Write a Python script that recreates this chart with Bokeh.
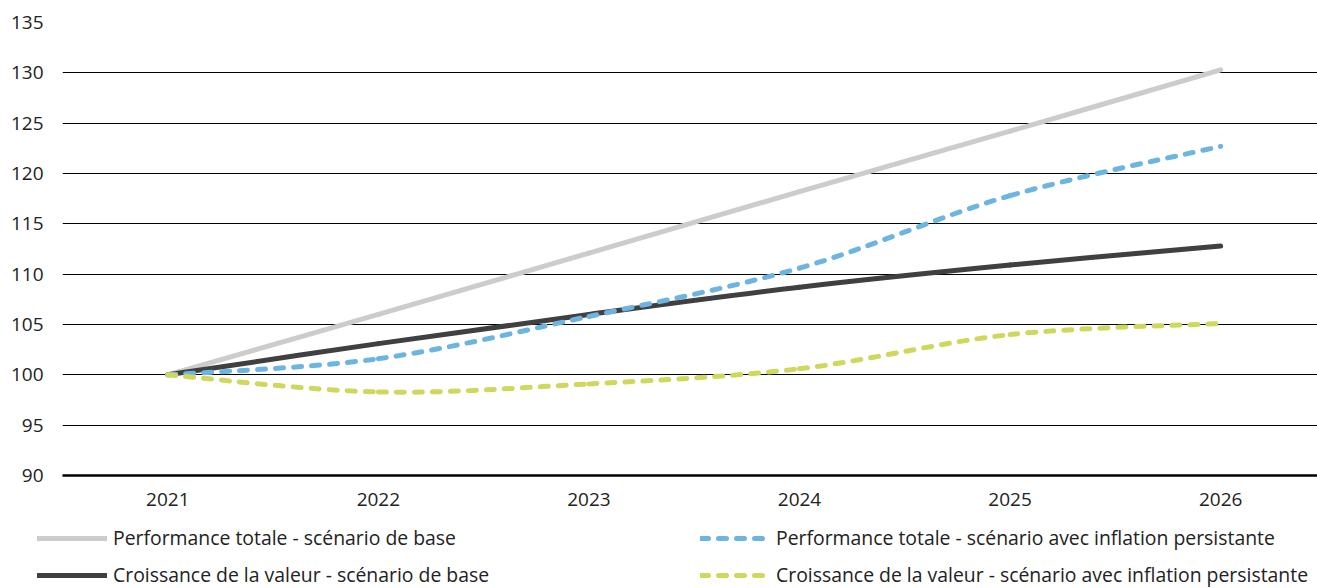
from bokeh.plotting import figure
from bokeh.models import Range1d, FixedTicker, Legend, LegendItem
from bokeh.layouts import column
from bokeh.embed import file_html
from bokeh.resources import INLINE

years = [2021, 2022, 2023, 2024, 2025, 2026]
perf_base = [100.0, 106.0, 112.1, 118.2, 124.2, 130.3]
croiss_base = [100.0, 103.1, 106.0, 108.7, 110.9, 112.8]
perf_infl = [100.0, 101.6, 105.8, 110.6, 117.8, 122.7]
croiss_infl = [100.0, 98.3, 99.1, 100.6, 104.0, 105.1]
y_ticks = [90, 95, 100, 105, 110, 115, 120, 125, 130, 135]

labels = [
    "Performance totale - scénario de base",
    "Croissance de la valeur - scénario de base",
    "Performance totale - scénario avec inflation persistante",
    "Croissance de la valeur - scénario avec inflation persistante",
]
colors = ["#CCCCCC", "#404040", "#6DB5E1", "#CFD85C"]
dashes = ["solid", "solid", "8 10", "8 10"]
series = [perf_base, croiss_base, perf_infl, croiss_infl]

FONT = "Open Sans"
TXT = "#222222"
W = 1317
LW = 5

p = figure(width=W, height=520, output_backend="svg", toolbar_location=None,
           x_range=Range1d(2020.5, 2026.46), y_range=Range1d(90, 135),
           min_border_left=62, min_border_right=0, min_border_top=22,
           min_border_bottom=45)
p.frame_align = False
p.outline_line_color = None
p.background_fill_color = "white"

p.xgrid.grid_line_color = None
p.ygrid.grid_line_color = "#000000"
p.ygrid.grid_line_width = 1
p.yaxis.ticker = FixedTicker(ticks=y_ticks)
p.xaxis.ticker = FixedTicker(ticks=years)

p.yaxis.axis_line_color = None
p.yaxis.major_tick_line_color = None
p.yaxis.minor_tick_line_color = None
p.yaxis.major_tick_out = 0
p.yaxis.minor_tick_out = 0
p.yaxis.major_label_standoff = 19
p.xaxis.axis_line_color = "#000000"
p.xaxis.axis_line_width = 2.5
p.xaxis.major_tick_line_color = None
p.xaxis.minor_tick_line_color = None
p.xaxis.major_tick_out = 0
p.xaxis.minor_tick_out = 0
p.xaxis.major_label_standoff = 17
for ax in (p.xaxis[0], p.yaxis[0]):
    ax.major_label_text_font = FONT
    ax.major_label_text_font_size = "19px"
    ax.major_label_text_color = TXT


def smooth_segments(xs, ys):
    """Bezier control points (Catmull-Rom style) between consecutive data points."""
    n = len(xs)
    out = {k: [] for k in ("x0", "y0", "x1", "y1", "cx0", "cy0", "cx1", "cy1")}
    for i in range(n - 1):
        ip = max(i - 1, 0)
        inn = min(i + 2, n - 1)
        out["x0"].append(xs[i]); out["y0"].append(ys[i])
        out["x1"].append(xs[i + 1]); out["y1"].append(ys[i + 1])
        out["cx0"].append(xs[i] + (xs[i + 1] - xs[ip]) / 6)
        out["cy0"].append(ys[i] + (ys[i + 1] - ys[ip]) / 6)
        out["cx1"].append(xs[i + 1] - (xs[inn] - xs[i]) / 6)
        out["cy1"].append(ys[i + 1] - (ys[inn] - ys[i]) / 6)
    return out


for vals, col, dash in zip(series, colors, dashes):
    seg = smooth_segments(years, vals)
    p.bezier(line_color=col, line_width=LW, line_dash=dash, line_cap="round", **seg)

# legend strip below the chart
lf = figure(width=W, height=68, output_backend="svg", toolbar_location=None,
            x_axis_type=None, y_axis_type=None,
            min_border_left=0, min_border_right=0, min_border_top=0,
            min_border_bottom=0)
lf.frame_align = False
lf.outline_line_color = None
lf.xgrid.grid_line_color = None
lf.ygrid.grid_line_color = None

legend_renderers = []
for col, dash in zip(colors, dashes):
    r = lf.line(x=[float("nan")], y=[float("nan")], line_color=col, line_width=LW,
                line_dash=dash, line_cap="round")
    legend_renderers.append(r)


def make_legend(items, loc):
    return Legend(items=items, location=loc, orientation="vertical",
                  glyph_width=70, glyph_height=24, label_height=24,
                  label_standoff=6, spacing=10, padding=0, margin=0,
                  border_line_alpha=0, background_fill_alpha=0,
                  label_text_font=FONT, label_text_font_size="19.4px",
                  label_text_color=TXT)


leg_a = make_legend([LegendItem(label=labels[0], renderers=[legend_renderers[0]]),
                     LegendItem(label=labels[1], renderers=[legend_renderers[1]])],
                    (37, 0))
leg_b = make_legend([LegendItem(label=labels[2], renderers=[legend_renderers[2]]),
                     LegendItem(label=labels[3], renderers=[legend_renderers[3]])],
                    (700, 0))
lf.add_layout(leg_a)
lf.add_layout(leg_b)

layout = column(p, lf, spacing=0)
open("out.html", "w").write(file_html(layout, INLINE))
